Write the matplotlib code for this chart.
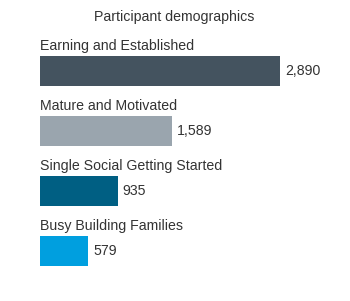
import matplotlib.pyplot as plt

segments = ["Earning and Established", "Mature and Motivated",
            "Single Social Getting Started", "Busy Building Families"]
counts = [2890, 1589, 935, 579]
colors = ["#44535f", "#9aa5ae", "#005f83", "#009fdf"]

plt.rcParams["font.family"] = ["Liberation Sans", "DejaVu Sans"]
W, H = 350, 301
FS = 10.2
fig = plt.figure(figsize=(W / 100, H / 100), dpi=100)
# axes spans pixel x 40..280, y 41..281 (from top)
ax = fig.add_axes([40 / W, (H - 281) / H, 240 / W, 240 / H])
ax.set_xlim(0, 2890)
ax.set_ylim(3.5, -0.5)
ax.axis("off")

ypos = range(len(segments))
ax.barh(ypos, counts, height=0.5, color=colors)
for i, (name, v) in enumerate(zip(segments, counts)):
    ax.text(0, i - 0.35, name, ha="left", va="baseline", fontsize=FS, color="#333333")
    ax.annotate(f"{v:,}", (v, i), xytext=(3.6, 0), textcoords="offset points",
                ha="left", va="center", fontsize=FS, color="#333333")

fig.text(174.5 / W, (H - 21) / H, "Participant demographics", ha="center",
         va="baseline", fontsize=FS, color="#333333")

fig.savefig("out.png", dpi=100)
